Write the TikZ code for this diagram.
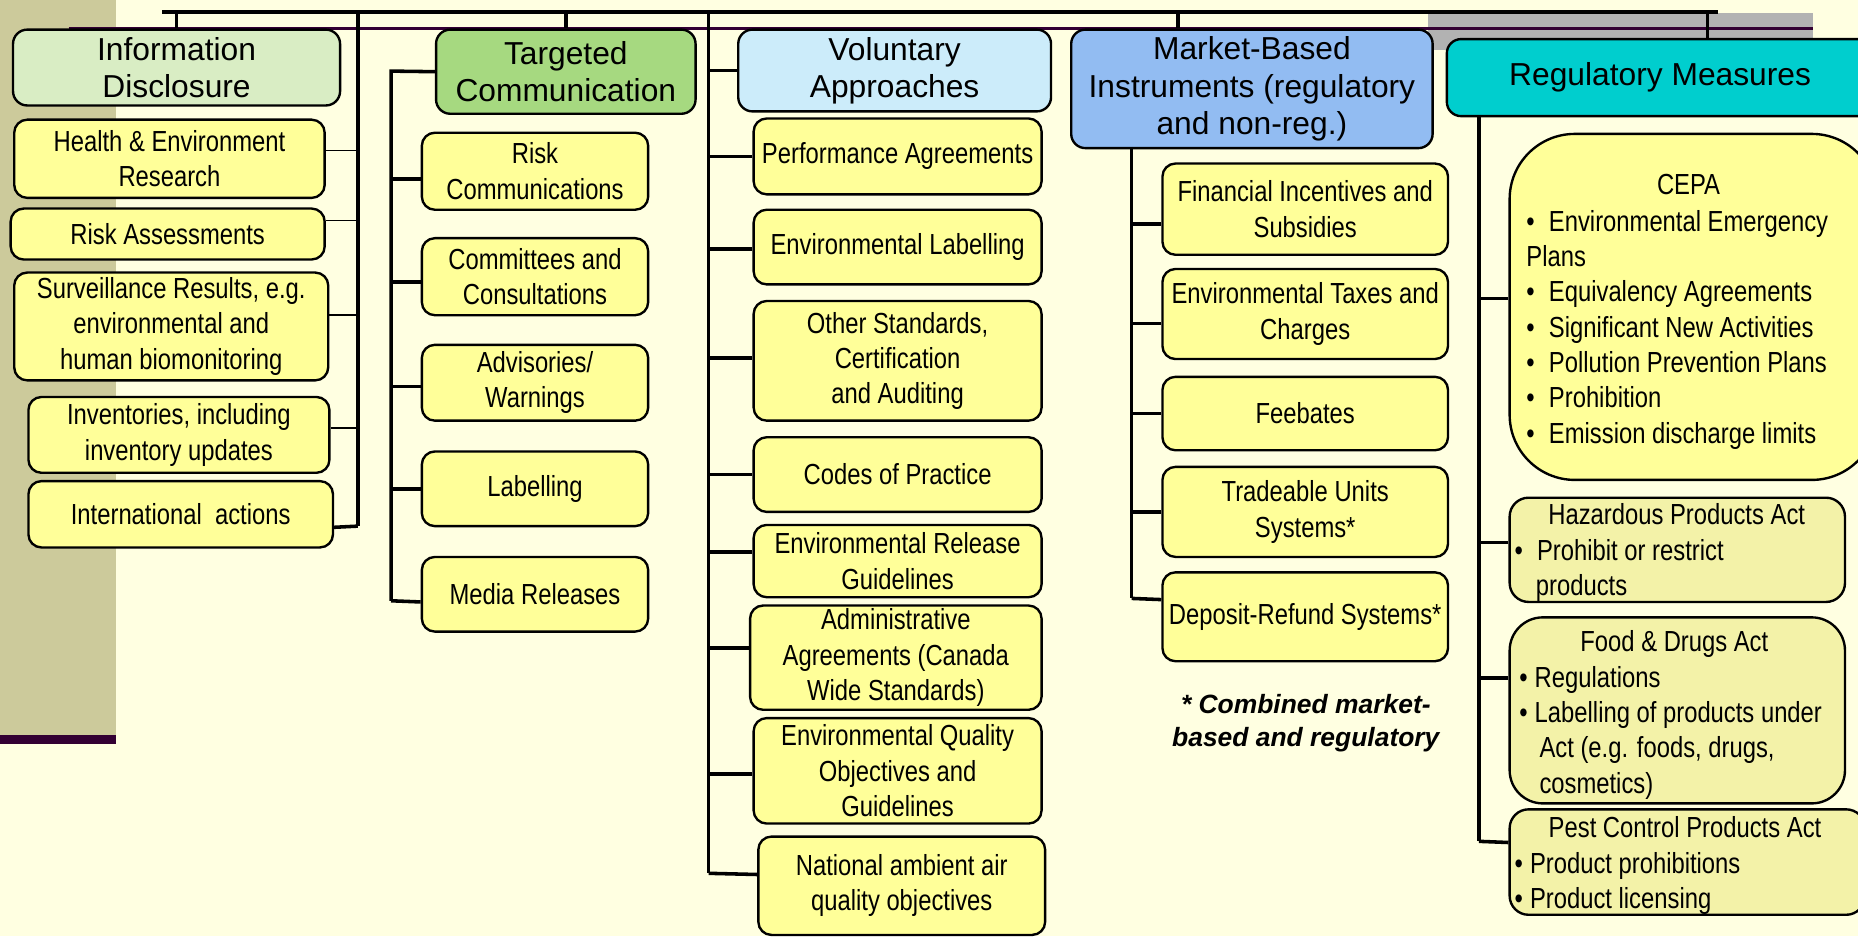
\documentclass[tikz,border=0pt]{standalone}
\usepackage{fontspec}
\setmainfont{Liberation Sans}
\newfontfamily\narrowfont[FakeStretch=0.82]{Liberation Sans}
\definecolor{bgyel}{RGB}{255,255,225}
\definecolor{strip}{RGB}{204,202,155}
\definecolor{darkpurple}{RGB}{51,0,51}
\definecolor{graybar}{RGB}{178,178,178}
\definecolor{boxyel}{RGB}{255,255,153}
\definecolor{paleyel}{RGB}{243,242,168}
\definecolor{hinfo}{RGB}{217,237,196}
\definecolor{htgt}{RGB}{166,217,128}
\definecolor{hvol}{RGB}{204,236,250}
\definecolor{hmkt}{RGB}{146,188,242}
\definecolor{hreg}{RGB}{0,206,206}
\begin{document}
\begin{tikzpicture}[x=1pt,y=-1pt,
  wh/.style 2 args={minimum width=#1pt, minimum height=#2pt},
  hdr/.style={draw=black, line width=2pt, rounded corners=12pt, anchor=north west, inner sep=0pt, align=center, font=\fontsize{26.8}{31.5}\selectfont},
  itm/.style={draw=black, line width=2pt, rounded corners=11pt, fill=boxyel, anchor=north west, inner sep=0pt, align=center, font=\narrowfont\fontsize{24.5}{29.8}\selectfont},
  paleitm/.style={itm, fill=paleyel},
  txt/.style={inner sep=0pt, font=\narrowfont\fontsize{24.5}{29.8}\selectfont},
  ttl/.style={txt, anchor=base},
  body/.style={txt, anchor=north west, align=left},
  tconn/.style={line width=3pt},
  nconn/.style={line width=1.5pt},
]
\useasboundingbox (0,0) rectangle (1568,790);
\clip (0,0) rectangle (1568,790);
% background
\fill[bgyel] (0,0) rectangle (1568,790);
\fill[strip] (0,0) rectangle (98,620);
\fill[darkpurple] (0,620) rectangle (98,628);
\fill[graybar] (1205,11) rectangle (1530,42);
\draw[darkpurple, line width=2pt] (58,24) -- (1530,24);

% headers
\node[hdr, fill=hinfo, wh={276}{64}] (info) at (10,24) {Information\\Disclosure};
\node[hdr, fill=htgt, wh={219}{71}] (tgt) at (367,24) {Targeted\\Communication};
\node[hdr, fill=hvol, wh={264}{69}] (vol) at (622,24) {Voluntary\\Approaches};
\node[hdr, fill=hmkt, wh={305}{100}] (mkt) at (903,24) {Market-Based\\Instruments (regulatory\\and non-reg.)};
\node[hdr, fill=hreg, wh={360}{65}] (reg) at (1220,32) {Regulatory Measures};

% information disclosure items
\node[itm, wh={262}{66}] (hea) at (11,100) {Health \& Environment\\Research};
\node[itm, wh={265}{43}] (ras) at (8,175) {Risk Assessments};
\node[itm, wh={265}{91}] (sur) at (11,229) {Surveillance Results, e.g.\\environmental and\\human biomonitoring};
\node[itm, wh={254}{64}] (inv) at (23,334) {Inventories, including\\inventory updates};
\node[itm, wh={257}{56}] (intl) at (23,405) {International\ \ actions};

% targeted communication items
\node[itm, wh={191}{65}] (rc) at (355,111) {Risk\\Communications};
\node[itm, wh={191}{65}] (cc) at (355,200) {Committees and\\Consultations};
\node[itm, wh={191}{64}] (adv) at (355,290) {Advisories/\\Warnings};
\node[itm, wh={191}{63}] (lab) at (355,380) {Labelling};
\node[itm, wh={191}{63}] (med) at (355,469) {Media Releases};

% voluntary items
\node[itm, wh={243}{64}] (pa) at (635,99) {Performance Agreements};
\node[itm, wh={243}{63}] (el) at (635,176) {Environmental Labelling};
\node[itm, wh={243}{101}] (os) at (635,253) {Other Standards,\\Certification\\and Auditing};
\node[itm, wh={243}{63}] (cp) at (635,368) {Codes of Practice};
\node[itm, wh={243}{61}] (er) at (635,442) {Environmental Release\\Guidelines};
\node[itm, wh={246}{88}] (aa) at (632,510) {Administrative\\Agreements (Canada\\Wide Standards)};
\node[itm, wh={243}{89}] (eq) at (635,605) {Environmental Quality\\Objectives and\\Guidelines};
\node[itm, wh={242}{83}] (na) at (639,705) {National ambient air\\quality objectives};

% market-based items
\node[itm, wh={241}{77}] (fin) at (980,137) {Financial Incentives and\\Subsidies};
\node[itm, wh={241}{76}] (tax) at (980,226) {Environmental Taxes and\\Charges};
\node[itm, wh={241}{62}] (fee) at (980,317) {Feebates};
\node[itm, wh={241}{76}] (tra) at (980,393) {Tradeable Units\\Systems*};
\node[itm, wh={241}{75}] (dep) at (980,482) {Deposit-Refund Systems*};
\node[inner sep=0pt, align=center, font=\bfseries\itshape\fontsize{22.3}{28}\selectfont] (note) at (1102,610) {* Combined market-\\based and regulatory};

% regulatory items
\node[itm, rounded corners=55pt, wh={310}{292}] (cepa) at (1273,112) {};
\node[ttl] (cepat) at (1425,164) {CEPA};
\node[body] (cepab) at (1288,174) {\strut\makebox[19pt][l]{•}Environmental Emergency\\Plans\\\makebox[19pt][l]{•}Equivalency Agreements\\\makebox[19pt][l]{•}Significant New Activities\\\makebox[19pt][l]{•}Pollution Prevention Plans\\\makebox[19pt][l]{•}Prohibition\\\makebox[19pt][l]{•}Emission discharge limits};

\node[paleitm, rounded corners=16pt, wh={283}{88}] (haz) at (1273,419) {};
\node[ttl] (hazt) at (1415,443) {Hazardous Products Act};
\node[body] (hazb) at (1278,452) {\strut\makebox[19pt][l]{•}Prohibit or restrict\\\hspace*{18pt}products};

\node[paleitm, rounded corners=28pt, wh={283}{157}] (food) at (1273,520) {};
\node[ttl] (foodt) at (1413,550) {Food \& Drugs Act};
\node[body] (foodb) at (1282,559) {\strut\makebox[13pt][l]{•}Regulations\\\makebox[13pt][l]{•}Labelling of products under\\\hspace*{17pt}Act (e.g. foods, drugs,\\\hspace*{17pt}cosmetics)};

\node[paleitm, rounded corners=16pt, wh={300}{89}] (pest) at (1273,682) {};
\node[ttl] (pestt) at (1422,707) {Pest Control Products Act};
\node[body] (pestb) at (1278,716) {\strut\makebox[13pt][l]{•}Product prohibitions\\\makebox[13pt][l]{•}Product licensing};

% bus coordinates
\coordinate (busL) at (137,10);
\coordinate (busR) at (1450,10);
\coordinate (ibusT) at (302,10);
\coordinate (ibusB) at (302,444);
\coordinate (tbusT) at (330,60);
\coordinate (tbusB) at (330,507);
\coordinate (vbusT) at (598,10);
\coordinate (vbusB) at (598,737);
\coordinate (mbusT) at (955,124);
\coordinate (mbusB) at (955,505);
\coordinate (rbusT) at (1248,97);
\coordinate (rbusB) at (1248,710);

% top bus and drops
\draw[tconn] (busL) -- (busR);
\draw[tconn] (info.north) -- (info.north |- busL);
\draw[tconn] (tgt.north) -- (tgt.north |- busL);
\draw[tconn] ([xshift=-62.5pt]mkt.north) -- ([xshift=-62.5pt]mkt.north |- busL);
\draw[tconn] ([xshift=40pt]reg.north) -- ([xshift=40pt]reg.north |- busL);

% information disclosure bus
\draw[tconn] (ibusT) -- (ibusB);
\draw[nconn] ([yshift=7pt]hea.east) -- ([yshift=7pt]hea.east -| ibusT);
\draw[nconn] ([yshift=11.5pt]ras.east) -- ([yshift=11.5pt]ras.east -| ibusT);
\draw[nconn] ([yshift=9.5pt]sur.east) -- ([yshift=9.5pt]sur.east -| ibusT);
\draw[nconn] ([yshift=6pt]inv.east) -- ([yshift=6pt]inv.east -| ibusT);
\draw[tconn] ([yshift=-11pt]intl.east) -- (ibusB);

% targeted bus
\draw[tconn] (tgt.west) -- (tbusT) -- (tbusB);
\draw[tconn] ([yshift=-6.5pt]rc.west) -- ([yshift=-6.5pt]rc.west -| tbusT);
\draw[tconn] ([yshift=-4.5pt]cc.west) -- ([yshift=-4.5pt]cc.west -| tbusT);
\draw[tconn] ([yshift=-3pt]adv.west) -- ([yshift=-3pt]adv.west -| tbusT);
\draw[tconn] (lab.west) -- (lab.west -| tbusT);
\draw[tconn] ([yshift=-6.5pt]med.west) -- (tbusB);

% voluntary bus
\draw[tconn] (vbusT) -- (vbusB);
\draw[tconn] (vol.west) -- (vol.west -| vbusT);
\draw[tconn] (pa.west) -- (pa.west -| vbusT);
\draw[tconn] ([yshift=-1.5pt]el.west) -- ([yshift=-1.5pt]el.west -| vbusT);
\draw[tconn] ([yshift=2.5pt]os.west) -- ([yshift=2.5pt]os.west -| vbusT);
\draw[tconn] (cp.west) -- (cp.west -| vbusT);
\draw[tconn] ([yshift=7.5pt]er.west) -- ([yshift=7.5pt]er.west -| vbusT);
\draw[tconn] ([yshift=8pt]aa.west) -- ([yshift=8pt]aa.west -| vbusT);
\draw[tconn] ([yshift=-2.5pt]eq.west) -- ([yshift=-2.5pt]eq.west -| vbusT);
\draw[tconn] ([yshift=9.5pt]na.west) -- (vbusB);

% market bus
\draw[tconn] (mbusT) -- (mbusB);
\draw[tconn] ([yshift=-12.5pt]fin.west) -- ([yshift=-12.5pt]fin.west -| mbusT);
\draw[tconn] ([yshift=-8pt]tax.west) -- ([yshift=-8pt]tax.west -| mbusT);
\draw[tconn] (fee.west) -- (fee.west -| mbusT);
\draw[tconn] (tra.west) -- (tra.west -| mbusT);
\draw[tconn] ([yshift=14.5pt]dep.west) -- (mbusB);

% regulatory bus
\draw[tconn] (rbusT) -- (rbusB);
\draw[tconn] ([yshift=7pt]cepa.west) -- ([yshift=7pt]cepa.west -| rbusT);
\draw[tconn] ([yshift=6pt]haz.west) -- ([yshift=6pt]haz.west -| rbusT);
\draw[tconn] ([yshift=27.5pt]food.west) -- ([yshift=27.5pt]food.west -| rbusT);
\draw[tconn] ([yshift=16.5pt]pest.west) -- (rbusB);
\end{tikzpicture}
\end{document}
